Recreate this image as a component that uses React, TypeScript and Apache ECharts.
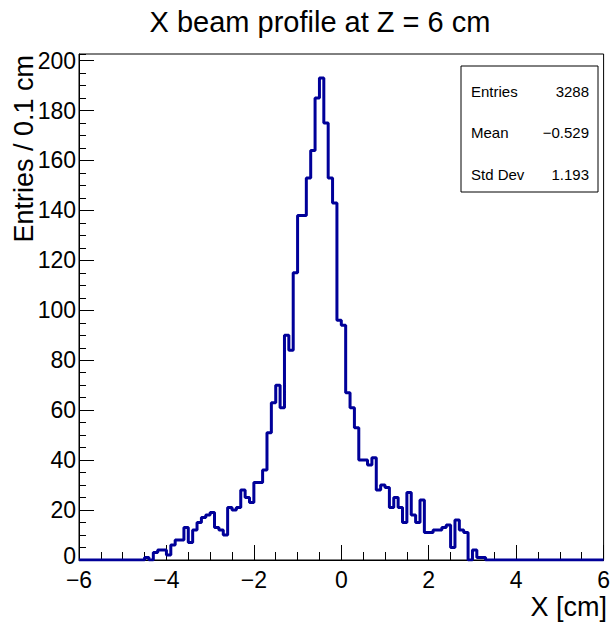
import React, { useEffect, useRef } from "react";
import * as echarts from "echarts";

// Histogram: 120 bins of 0.1 cm from -6 to 6
const X_MIN = -6;
const X_MAX = 6;
const BIN_WIDTH = 0.1;
const Y_MAX = 202.65;

const counts: number[] = [
  0, 0, 0, 0, 0, 0, 0, 0, 0, 0, 0, 0, 0, 0, 0,
  1, 0, 3, 4, 4, 2, 6, 8, 8, 13, 7, 12, 15, 17, 18, 19, 13, 12, 10,
  21, 20, 21, 28, 25, 23, 31, 31, 36, 51, 63, 70, 61, 90, 84,
  115, 138, 138, 153, 164, 185, 193, 175, 153, 143, 96, 94,
  67, 61, 53, 40, 40, 38, 41, 28, 30, 29, 21, 25, 21, 15, 27, 18, 15, 24,
  11, 11, 12, 12, 13, 14, 5, 16, 12, 11, 0, 4, 1, 1,
  0, 0, 0, 0, 0, 0, 0, 0, 0, 0, 0, 0, 0, 0, 0, 0, 0, 0, 0, 0, 0, 0, 0, 0, 0, 0, 0,
];

const titleText = "X beam profile at Z = 6 cm";
const xAxisTitle = "X [cm]";
const yAxisTitle = "Entries / 0.1 cm";
const statLabels = ["Entries", "Mean", "Std Dev"];
const statValues = ["3288", "\u22120.529", "1.193"];

const FONT = "'Liberation Sans', Arial, Helvetica, sans-serif";

export default function App() {
  const ref = useRef<HTMLDivElement>(null);

  useEffect(() => {
    if (!ref.current) return;
    const chart = echarts.init(ref.current, undefined, { renderer: "svg" });

    const data: [number, number][] = counts.map((c, i) => [
      +(X_MIN + i * BIN_WIDTH).toFixed(2),
      c,
    ]);
    data.push([X_MAX, counts[counts.length - 1]]);

    const statGraphics: any[] = [];
    const boxX = 461, boxY = 66, boxW = 137, boxH = 126;
    statGraphics.push({
      type: "rect",
      shape: { x: boxX, y: boxY, width: boxW, height: boxH },
      style: { fill: "#fff", stroke: "#000", lineWidth: 1 },
      z: 100,
    });
    statLabels.forEach((lab, i) => {
      const y = 91 + i * 41.5;
      statGraphics.push({
        type: "text",
        x: 471,
        y,
        z: 101,
        style: {
          text: lab,
          fontSize: 15,
          fontFamily: FONT,
          fill: "#000",
          textAlign: "left",
          textVerticalAlign: "middle",
        },
      });
      statGraphics.push({
        type: "text",
        x: 589,
        y,
        z: 101,
        style: {
          text: statValues[i],
          fontSize: 15,
          fontFamily: FONT,
          fill: "#000",
          textAlign: "right",
          textVerticalAlign: "middle",
        },
      });
    });

    const fmtMinus = (v: number) => String(v).replace("-", "\u2212");

    chart.setOption({
      animation: false,
      backgroundColor: "#fff",
      grid: {
        left: 79,
        right: 6,
        top: 54,
        bottom: 62,
        show: true,
        borderColor: "#000",
        borderWidth: 1,
        backgroundColor: "transparent",
      },
      xAxis: {
        type: "value",
        min: X_MIN,
        max: X_MAX,
        interval: 2,
        axisLine: { show: true, onZero: false, lineStyle: { color: "#000", width: 1 } },
        axisTick: { show: true, inside: true, length: 15, lineStyle: { color: "#000", width: 1 } },
        minorTick: { show: true, splitNumber: 4, length: 8, lineStyle: { color: "#000", width: 1 } },
        axisLabel: {
          color: "#000",
          fontSize: 23,
          lineHeight: 18,
          fontFamily: FONT,
          margin: 11,
          formatter: (v: number) => fmtMinus(v),
        },
        splitLine: { show: false },
      },
      yAxis: [
        {
          type: "value",
          position: "left",
          min: 0,
          max: Y_MAX,
          interval: 20,
          axisLine: { show: true, onZero: false, lineStyle: { color: "#000", width: 1 } },
          axisTick: { show: true, inside: true, length: 15, lineStyle: { color: "#000", width: 1 } },
          axisLabel: {
            color: "#000",
            fontSize: 23,
            lineHeight: 18,
            fontFamily: FONT,
            margin: 3,
            showMaxLabel: false,
            formatter: (v: number) =>
              v === 0 ? "{z|0}" : v % 20 === 0 ? String(v) : "",
            rich: {
              z: {
                fontSize: 23,
                fontFamily: FONT,
                color: "#000",
                lineHeight: 18,
                padding: [0, 0, 8, 0],
              },
            },
          },
          splitLine: { show: false },
        },
        {
          type: "value",
          position: "left",
          min: 0,
          max: Y_MAX,
          interval: 5,
          axisLine: { show: false, onZero: false },
          axisTick: { show: true, inside: true, length: 7, lineStyle: { color: "#000", width: 1 } },
          axisLabel: { show: false },
          splitLine: { show: false },
        },
      ],
      series: [
        {
          type: "line",
          step: "end",
          yAxisIndex: 0,
          data,
          showSymbol: false,
          symbol: "none",
          lineStyle: { color: "#000099", width: 3 },
          z: 5,
        },
      ],
      graphic: [
        {
          type: "text",
          x: 320,
          y: 22,
          style: {
            text: titleText,
            fontSize: 29,
            fontFamily: FONT,
            fill: "#000",
            textAlign: "center",
            textVerticalAlign: "middle",
          },
        },
        {
          type: "text",
          x: 607,
          y: 607,
          style: {
            text: xAxisTitle,
            fontSize: 27,
            fontFamily: FONT,
            fill: "#000",
            textAlign: "right",
            textVerticalAlign: "middle",
          },
        },
        {
          type: "text",
          x: 24,
          y: 55,
          rotation: Math.PI / 2,
          style: {
            text: yAxisTitle,
            fontSize: 27,
            fontFamily: FONT,
            fill: "#000",
            textAlign: "right",
            textVerticalAlign: "middle",
          },
        },
        ...statGraphics,
      ],
    });

    return () => chart.dispose();
  }, []);

  return (
    <div
      ref={ref}
      style={{ position: "fixed", left: 0, top: 0, width: 613, height: 622, background: "#fff" }}
    />
  );
}
